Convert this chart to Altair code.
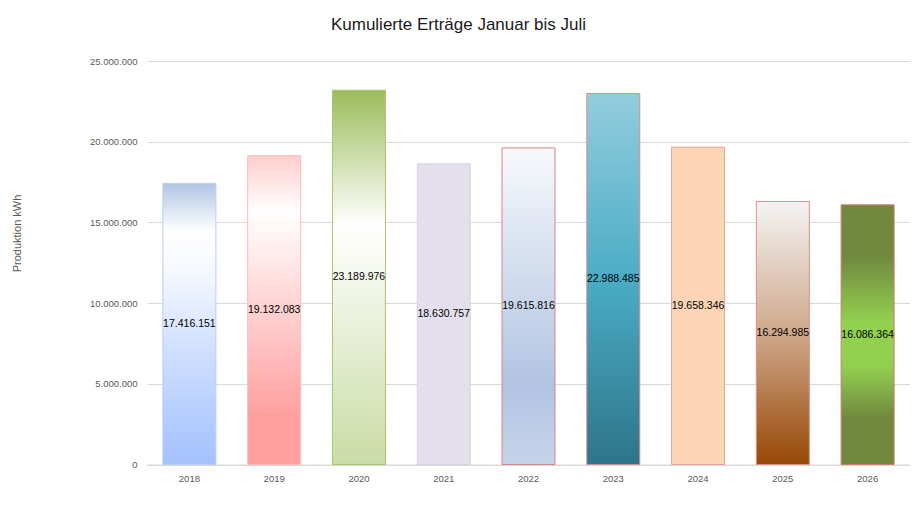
import altair as alt
import pandas as pd

# ---- data ----
years = ["2018", "2019", "2020", "2021", "2022", "2023", "2024", "2025", "2026"]
values = [17416151, 19132083, 23189976, 18630757, 19615816, 22988485, 19658346, 16294985, 16086364]

# ---- styles (per bar gradient stops, top -> bottom) ----
fill_stops = [
    [(0, "#b1c5e3"), (0.17, "#ffffff"), (0.3, "#f7f9ff"), (0.6, "#cfdffe"), (1, "#a3c1fd")],
    [(0, "#ffcdcd"), (0.18, "#ffffff"), (0.85, "#ff9f9f"), (1, "#ff9f9f")],
    [(0, "#9bbb59"), (0.36, "#ffffff"), (1, "#cadca6")],
    [(0, "#e4dfec"), (1, "#e4dfec")],
    [(0, "#f7f9fc"), (0.75, "#b0c4e2"), (1, "#c6d4ea")],
    [(0, "#93cddd"), (0.5, "#4bacc6"), (1, "#2d7589")],
    [(0, "#fcd5b5"), (1, "#fcd5b5")],
    [(0, "#f4f4f4"), (0.5, "#cfa88b"), (1, "#974806")],
    [(0, "#71893f"), (0.2, "#71893f"), (0.45, "#92d050"), (0.62, "#92d050"), (0.82, "#71893f"), (1, "#71893f")],
]
strokes = ["#b9cdf5", "#ffb9b9", "#a9c46e", "#d9d0e8", "#d88484", "#d88c8c", "#e6a19a", "#dd8f86", "#d27a70"]

df = pd.DataFrame({"Jahr": years, "Ertrag": values})

FONT = "Liberation Sans"
label_expr = "replace(format(datum.value, ',d'), regexp(',', 'g'), '.')"

x_axis = alt.Axis(
    labelFont=FONT, labelFontSize=9.5, labelColor="#595959", labelAngle=0,
    labelPadding=9, ticks=False, tickSize=0, domain=True, domainColor="#d9d9d9",
    grid=False, title=None,
)
y_axis = alt.Axis(
    labelFont=FONT, labelFontSize=9.5, labelColor="#595959", labelPadding=10,
    ticks=False, tickSize=0, domain=False, domainOpacity=0, domainWidth=0,
    grid=True, gridColor="#d9d9d9",
    values=[0, 5000000, 10000000, 15000000, 20000000, 25000000],
    labelExpr=label_expr,
    title="Produktion kWh", titleFont=FONT, titleFontSize=11, titleFontWeight="normal",
    titleColor="#595959", titleAngle=270, titleAlign="center", titleBaseline="middle",
    titleX=-130, titleY=172,
)
x_scale = alt.Scale(domain=years, paddingInner=0.375, paddingOuter=0.1875)
y_scale = alt.Scale(domain=[0, 25000000], nice=False)

X = alt.X("Jahr:N", scale=x_scale, axis=x_axis, title=None)

base = alt.Chart(df)
layers = []
for yr, st, sc in zip(years, fill_stops, strokes):
    grad = alt.Gradient(
        gradient="linear",
        stops=[alt.GradientStop(offset=o, color=c) for o, c in st],
        x1=0, x2=0, y1=0, y2=1,
    )
    layers.append(
        base.transform_filter(alt.datum.Jahr == yr)
        .mark_bar(fill=grad, stroke=sc, strokeWidth=1)
        .encode(x=X, y=alt.Y("Ertrag:Q", scale=y_scale, axis=y_axis, title="Produktion kWh"))
    )

text = base.transform_calculate(
    lab="replace(format(datum.Ertrag, ',d'), regexp(',', 'g'), '.')",
    mid="datum.Ertrag / 2",
).mark_text(font=FONT, fontSize=10.5, color="#000000", baseline="middle", align="center").encode(
    x=X,
    y=alt.Y("mid:Q", scale=y_scale, axis=y_axis, title="Produktion kWh"),
    text="lab:N",
)

chart = alt.layer(*layers, text).properties(
    width=763,
    height=403.5,
    padding={"left": 139, "top": 53, "right": 0, "bottom": 40},
    autosize=alt.AutoSizeParams(type="none"),
    view=alt.ViewBackground(stroke="transparent", strokeWidth=0),
    title=alt.TitleParams(
        "Kumulierte Erträge Januar bis Juli", font=FONT, fontSize=17, fontWeight="normal",
        color="#1a1a1a", anchor="middle", offset=22, frame="group", dx=-70,
    ),
).configure_view(stroke="transparent", strokeWidth=0).configure_axisLeft(
    domain=False, domainOpacity=0
).configure(background="white")

chart.save("out.html", embed_options={"renderer": "svg", "actions": False})
